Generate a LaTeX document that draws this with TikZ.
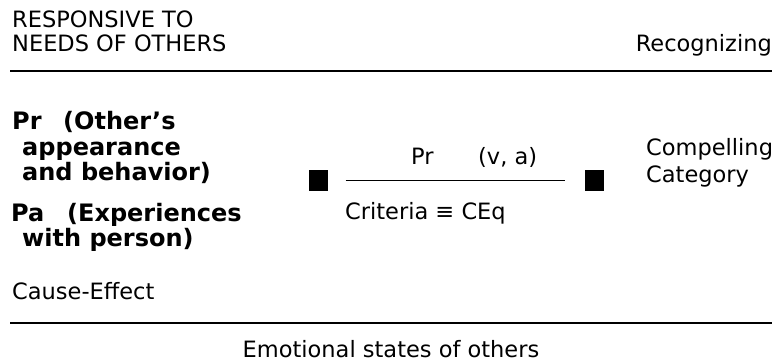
\documentclass[tikz,border=0pt]{standalone}
\usepackage{fontspec}
\setmainfont{DejaVu Sans}
\begin{document}
\begin{tikzpicture}[x=1pt,y=-1pt,
  txt/.style={inner sep=0pt,anchor=base west,font=\fontsize{22.5}{26}\selectfont},
  bld/.style={inner sep=0pt,anchor=base west,font=\fontsize{24}{26}\selectfont\bfseries},
  rule/.style={line width=2.2pt},
  sq/.style={fill=black,minimum width=19pt,minimum height=21pt,inner sep=0pt}]
\useasboundingbox (0,0) rectangle (776,362);
% header
\node[txt] (resp) at (12,27) {RESPONSIVE TO};
\node[txt] (needs) at (12,51) {NEEDS OF OTHERS};
\node[txt,anchor=base east] (recog) at (772,51) {Recognizing};
\coordinate (t1) at (10,71);
\coordinate (t2) at (772,71);
\draw[rule] (t1) -- (t2);
% left bold block
\node[bld] (pr) at (12,129) {Pr};
\node[bld] (oth) at (63,129) {(Other’s};
\node[bld] (app) at (22,155) {appearance};
\node[bld] (beh) at (22,180) {and behavior)};
\node[bld] (pa) at (11,221) {Pa};
\node[bld] (exp) at (67,221) {(Experiences};
\node[bld] (wp) at (22,246) {with person)};
% center
\node[sq] (sqL) at (318,180) {};
\node[sq] (sqR) at (594,180) {};
\draw[line width=1pt,shorten <=18pt,shorten >=19pt] (sqL.east) -- (sqR.west);
\node[txt] (prc) at (411,164) {Pr};
\node[txt] (va) at (478,164) {(v, a)};
\node[txt] (crit) at (345,219) {Criteria ≡ CEq};
\node[txt] (comp) at (646,155) {Compelling};
\node[txt] (cat) at (646,182) {Category};
% bottom
\node[txt] (ce) at (12,299) {Cause-Effect};
\coordinate (b1) at (10,323);
\coordinate (b2) at (772,323);
\draw[rule] (b1) -- (b2);
\node[txt,anchor=base] (emo) at (391,357) {Emotional states of others};
\end{tikzpicture}
\end{document}
